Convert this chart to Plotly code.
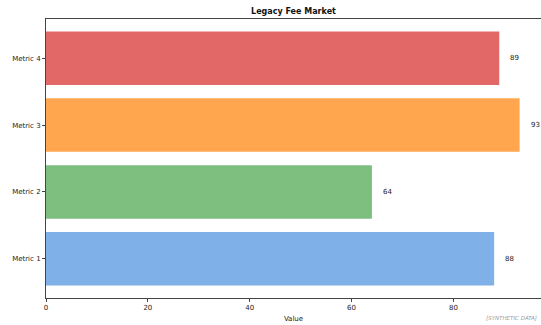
import plotly.graph_objects as go

# Data
categories = ["Metric 1", "Metric 2", "Metric 3", "Metric 4"]
values = [88, 64, 93, 89]
bar_colors = ["#7FB0E8", "#7EBE7E", "#FFA64F", "#E26767"]
x_ticks = [0, 20, 40, 60, 80]

FONT = "DejaVu Sans"

fig = go.Figure()
fig.add_trace(go.Bar(
    y=categories,
    x=values,
    orientation="h",
    marker=dict(color=bar_colors, line=dict(width=0)),
    width=0.8,
    showlegend=False,
    hoverinfo="x+y",
))

# Value labels just right of each bar end
for cat, val in zip(categories, values):
    fig.add_annotation(
        x=val, y=cat, xref="x", yref="y",
        text=str(val), showarrow=False,
        xanchor="left", yanchor="middle", xshift=9,
        font=dict(family=FONT, size=7, color="#222222"),
    )

fig.add_annotation(
    x=1.0, y=0, xref="paper", yref="paper",
    text="<i>[SYNTHETIC DATA]</i>", showarrow=False,
    xanchor="right", yanchor="top", yshift=-15, xshift=-2,
    font=dict(family=FONT, size=5.5, color="#999999"),
)

fig.update_layout(
    width=541, height=325,
    margin=dict(l=46, r=0, t=19, b=27),
    paper_bgcolor="white",
    plot_bgcolor="white",
    bargap=0.2,
    title=dict(
        text="<b>Legacy Fee Market</b>",
        x=(46 + 541) / 2 / 541, xanchor="center",
        y=1 - 11 / 325, yanchor="middle",
        font=dict(family=FONT, size=8, color="#111111"),
    ),
    xaxis=dict(
        range=[0, 97.2],
        tickvals=x_ticks,
        showgrid=False, zeroline=False,
        showline=True, linecolor="#444444", linewidth=1, mirror=True,
        ticks="outside", ticklen=3, tickcolor="#444444", tickwidth=1,
        tickfont=dict(family=FONT, size=7, color="#222222"),
        title=dict(text="Value", standoff=4,
                   font=dict(family=FONT, size=7, color="#222222")),
    ),
    yaxis=dict(
        range=[-0.585, 3.585],
        categoryorder="array", categoryarray=categories,
        showgrid=False, zeroline=False,
        showline=True, linecolor="#444444", linewidth=1,
        ticks="outside", ticklen=3, tickcolor="#444444", tickwidth=1,
        tickfont=dict(family=FONT, size=7, color="#222222"),
    ),
)

fig.write_html("out.html")
